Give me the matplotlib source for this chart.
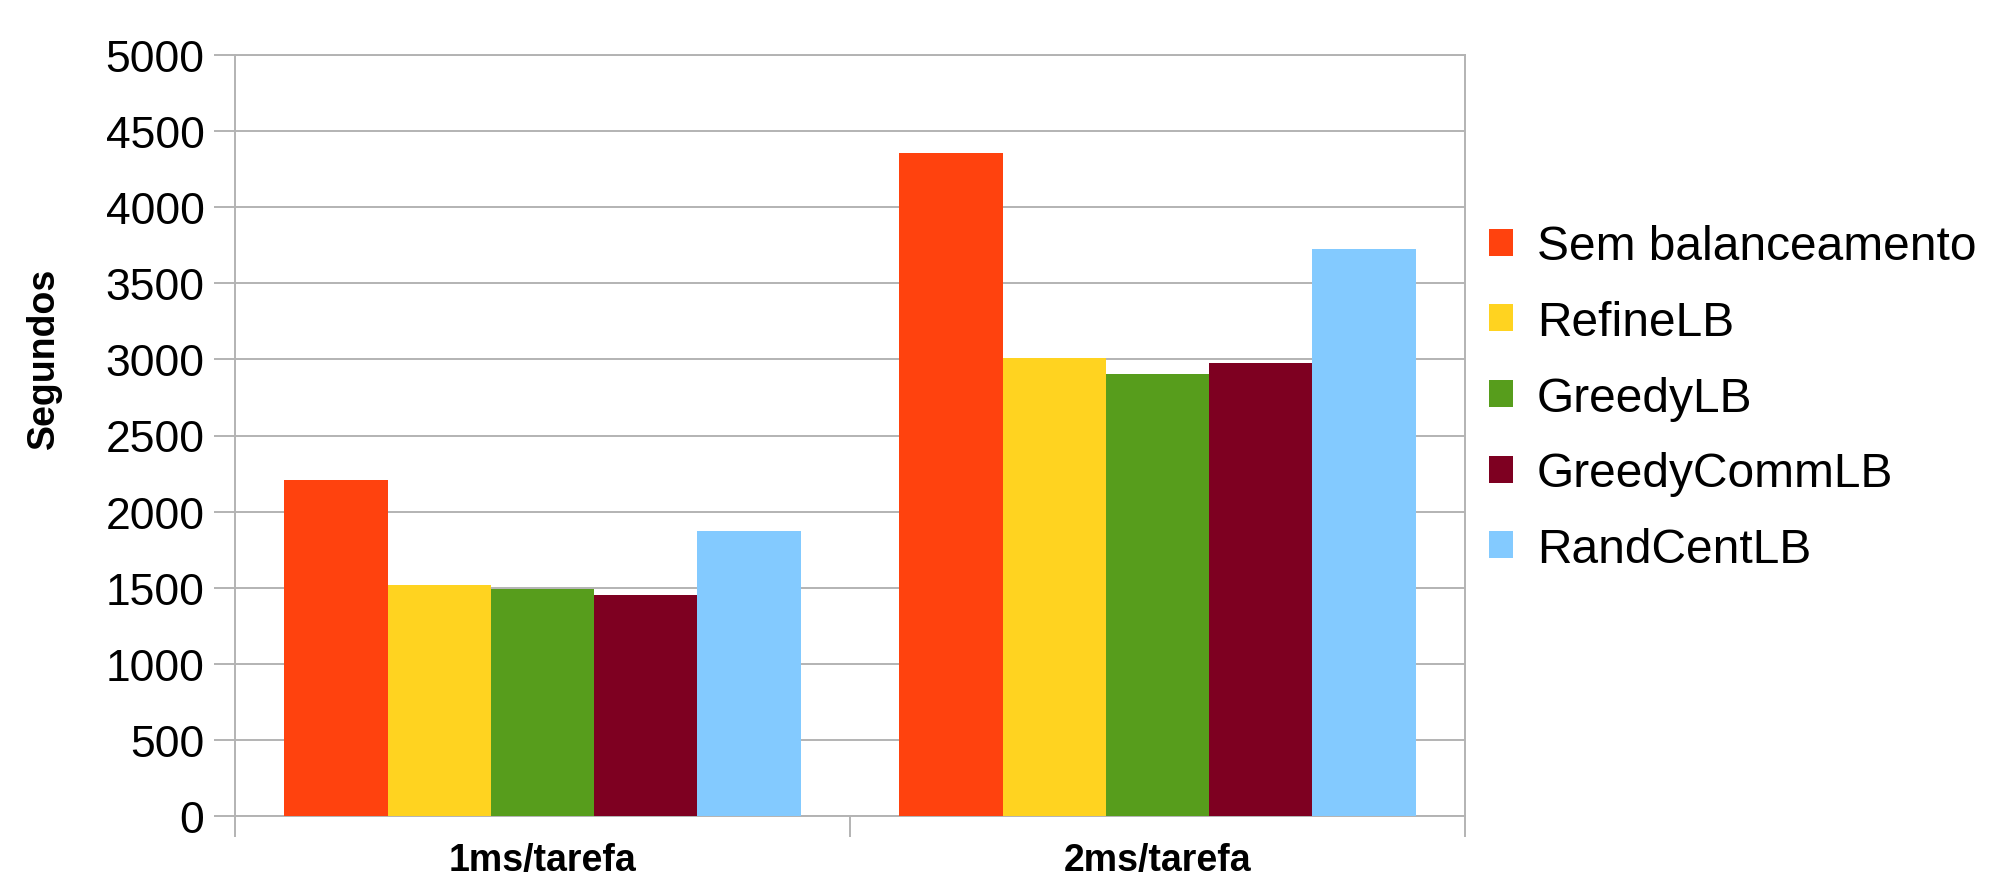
import numpy as np
import matplotlib

matplotlib.use("Agg")
import matplotlib.pyplot as plt  # noqa: E402

# data
categories = ["1ms/tarefa", "2ms/tarefa"]
series_names = ["Sem balanceamento", "RefineLB", "GreedyLB", "GreedyCommLB", "RandCentLB"]
sem_bal = [2210, 4358]
refine = [1520, 3006]
greedy = [1492, 2906]
greedy_comm = [1455, 2974]
rand_cent = [1875, 3727]
y_ticks = [0, 500, 1000, 1500, 2000, 2500, 3000, 3500, 4000, 4500, 5000]

colors = ["#ff420e", "#ffd320", "#579d1c", "#7e0021", "#83caff"]
grid_col = "#b3b3b3"

plt.rcParams["font.family"] = ["Liberation Sans", "DejaVu Sans"]

W, H = 1992, 879
fig = plt.figure(figsize=(W / 100, H / 100), dpi=100)
ax = fig.add_axes([235 / W, 1 - 817 / H, (1465 - 235) / W, (817 - 56) / H])

all_series = [sem_bal, refine, greedy, greedy_comm, rand_cent]
n = len(all_series)
bar_w = 0.168
start = 0.5 - n * bar_w / 2
cat_x = np.arange(len(categories))
for i, (vals, name, col) in enumerate(zip(all_series, series_names, colors)):
    ax.bar(cat_x + start + i * bar_w, vals, width=bar_w, align="edge",
           color=col, label=name, zorder=3, linewidth=0)

ax.set_xlim(0, len(categories))
ax.set_ylim(0, 5000)
ax.set_yticks(y_ticks)
ax.yaxis.grid(True, color=grid_col, linewidth=1.4, zorder=0)
ax.set_axisbelow(True)
ax.tick_params(axis="y", length=15, width=1.4, color=grid_col, pad=7,
               labelsize=32, labelcolor="black")

# category boundaries as major ticks, names on minor ticks
ax.set_xticks(np.arange(len(categories) + 1))
ax.set_xticklabels([])
ax.set_xticks(cat_x + 0.5, minor=True)
ax.set_xticklabels(categories, minor=True, fontsize=27, fontweight="bold")
ax.tick_params(axis="x", which="major", length=15, width=1.4, color=grid_col)
ax.tick_params(axis="x", which="minor", length=0, pad=19)

for side in ["left", "right", "bottom", "top"]:
    ax.spines[side].set_color(grid_col)
    ax.spines[side].set_linewidth(1.4)

fig.text(44 / W, 1 - 358 / H, "Segundos", rotation=90, ha="center", va="center",
         fontsize=27, fontweight="bold")

fig.legend(loc="center left", bbox_to_anchor=(1489 / W, 1 - 399 / H), frameon=False,
           fontsize=34.5, handlelength=0.5, handleheight=0.5, handletextpad=0.5,
           labelspacing=0.64, borderpad=0, borderaxespad=0)

fig.savefig("out.png", dpi=100)
